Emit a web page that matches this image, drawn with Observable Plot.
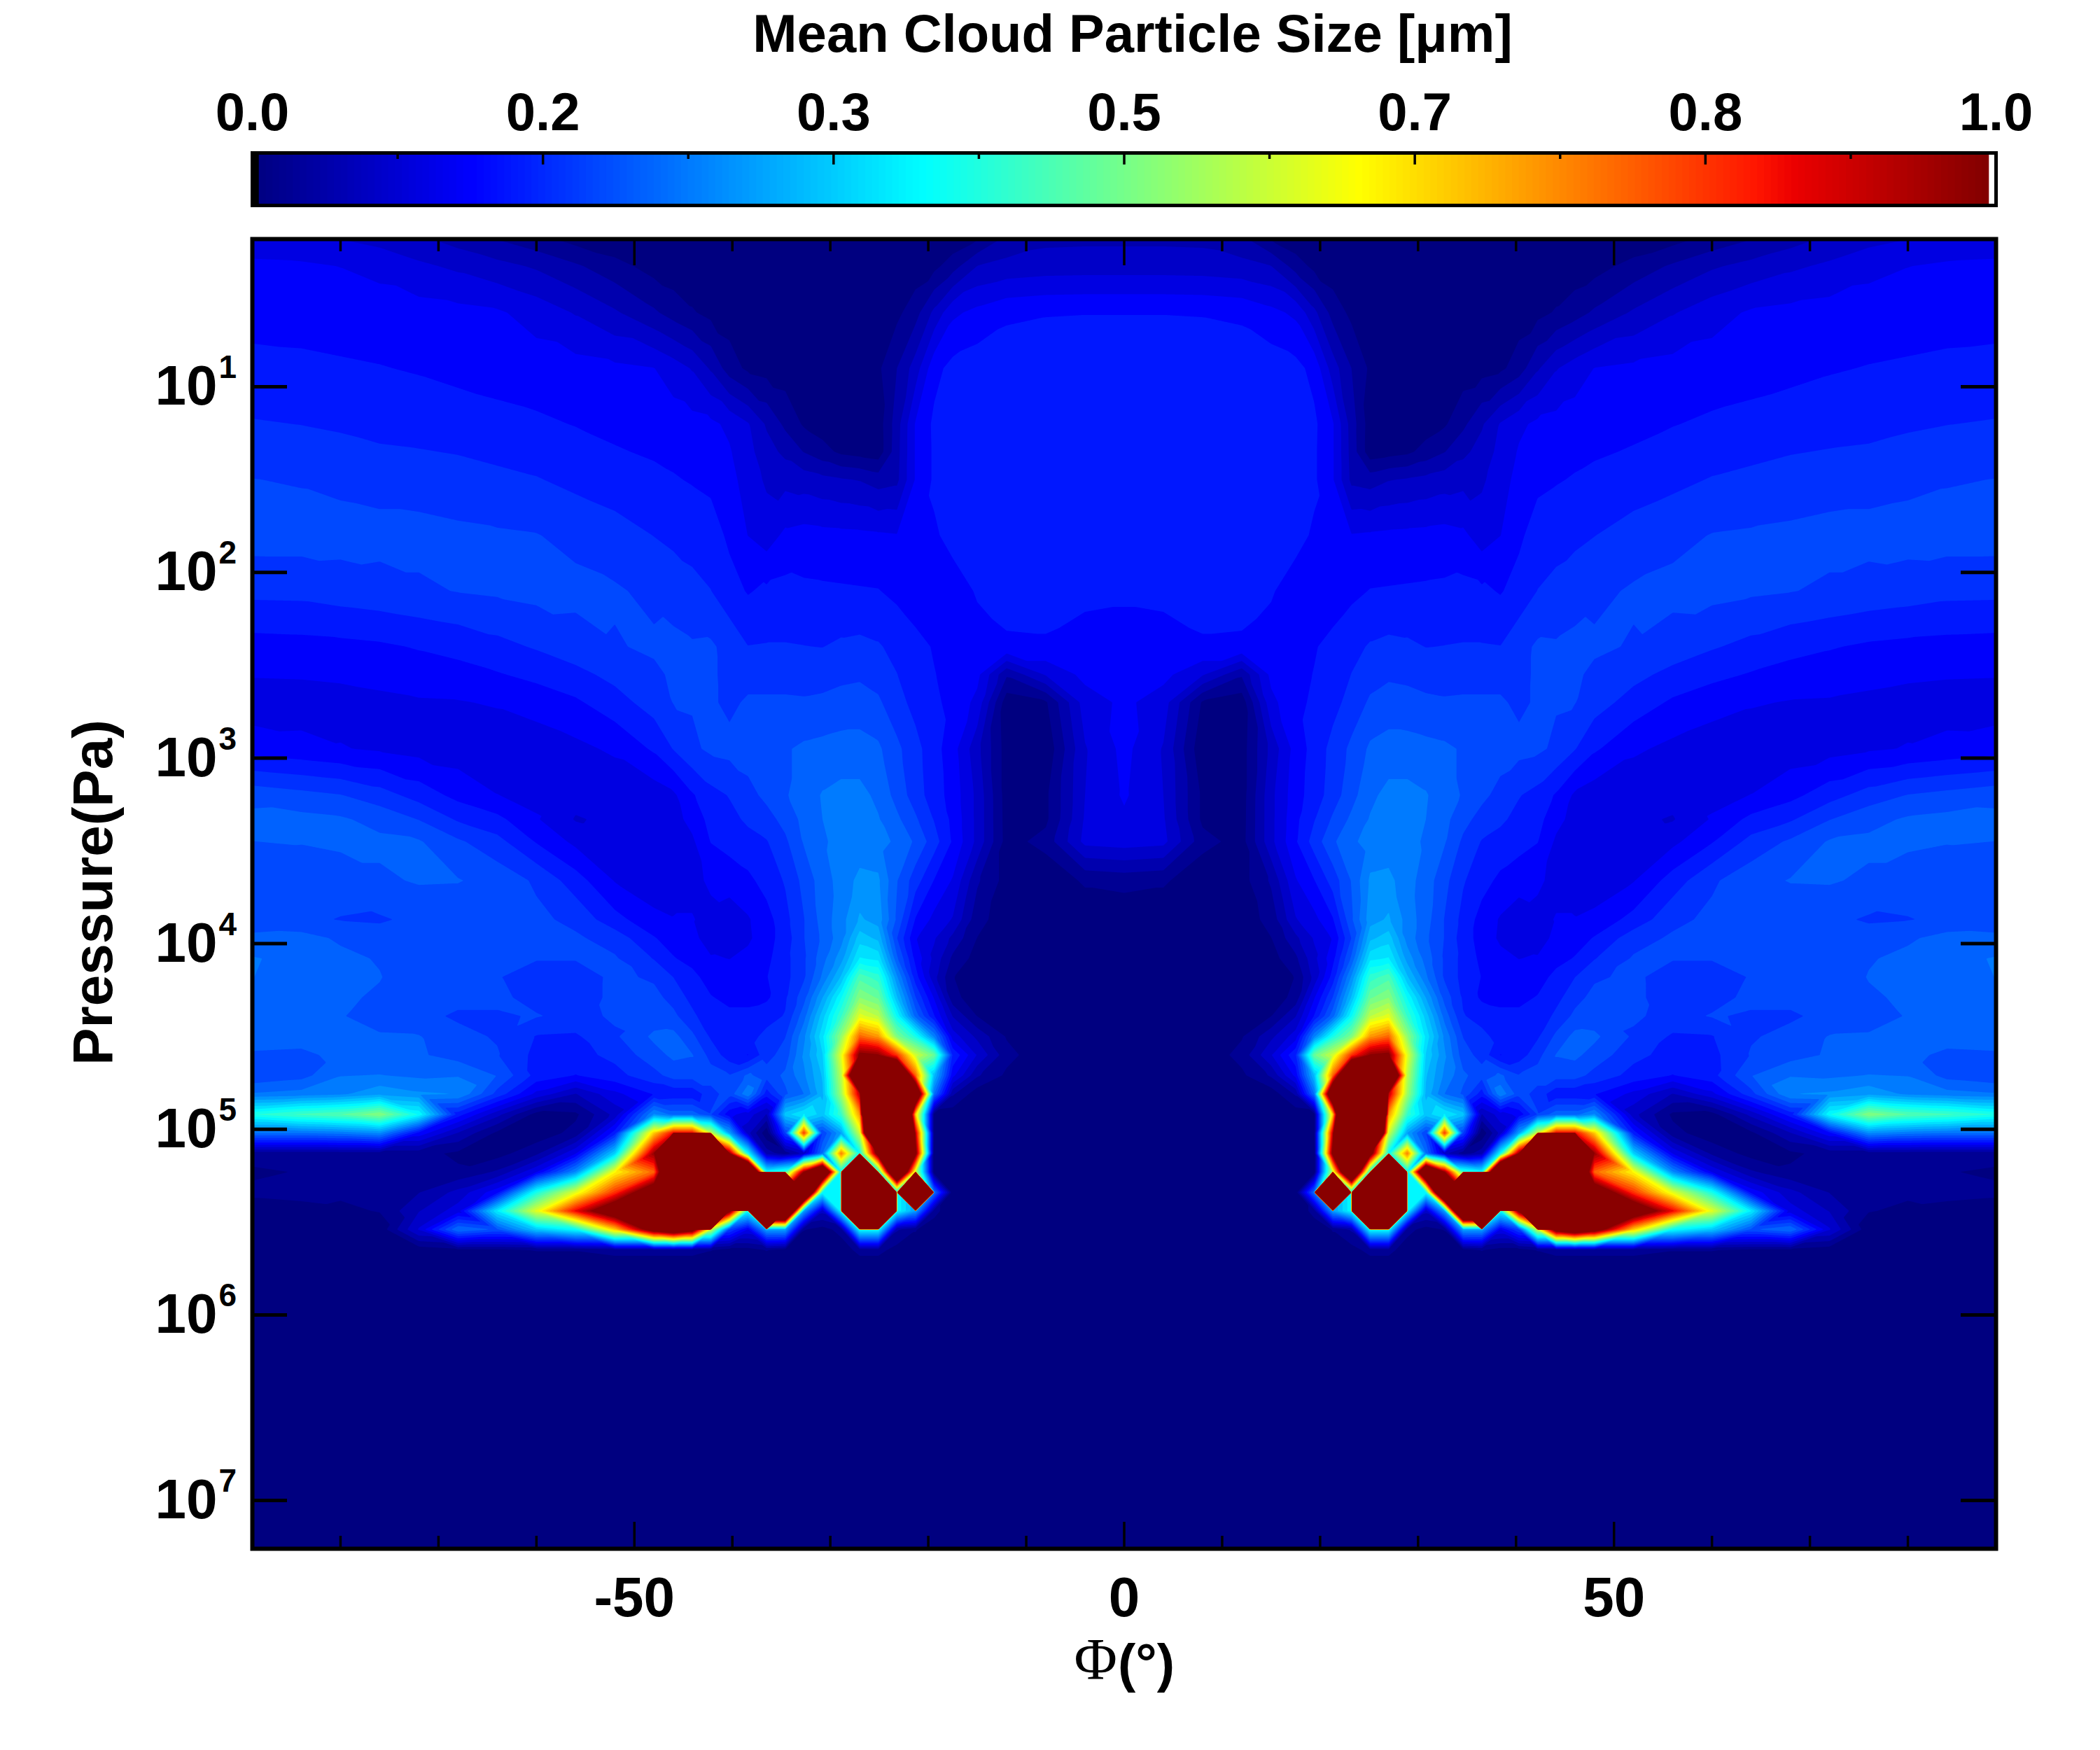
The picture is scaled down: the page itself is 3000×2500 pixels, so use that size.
<!DOCTYPE html>
<html>
<head>
<meta charset="utf-8">
<script src="https://cdn.jsdelivr.net/npm/d3@7"></script>
<script src="https://cdn.jsdelivr.net/npm/@observablehq/plot@0.6"></script>
<style>
html,body{margin:0;padding:0;background:#fff;}
svg{display:block;}
</style>
</head>
<body>
<div id="bar"></div>
<div id="main"></div>
<script>
// Latitude columns (degrees from the equator; the field is mirrored about 0)
const latitudes = [0,4,8,12,15,17.5,19.4,21.3,23.2,25.1,27,28.9,30.8,32.7,34.6,36.5,38.4,40.3,42.2,44.1,46,48,52,56,60,64,68,72,76,80,84,90];
// Pressure rows, log10(Pa)
const logPressures = [0.2,0.35,0.6,0.9,1.2,1.35,1.5,1.8,2.1,2.4,2.55,2.7,2.95,3.2,3.33,3.45,3.66,3.87,3.97,4.08,4.18,4.29,4.39,4.5,4.6,4.71,4.81,4.92,5.02,5.13,5.23,5.34,5.44,5.54,5.65,5.75,7.3];
// Mean particle size in hundredths of a micron, one row per pressure level
const sizeRows = [
[6.6,6.6,6.5,5.2,1.7,.2,0,0,0,0,0,0,0,0,0,0,0,0,0,0,0,0,0,1,2.8,4.4,6,7.6,8.8,9.6,10.1,10.6],
[8.5,8.5,8.4,8,7.2,3.5,1.3,.5,0,0,0,0,0,0,0,0,0,0,0,.3,.5,1,3,5,6.8,8,9.2,10.2,11.5,12.2,12.7,12.9],
[14.7,14.7,14.6,14.2,13,11.7,7.8,3.6,1.4,.5,.3,.2,.2,.2,.2,.2,.3,.8,1.3,2.3,3.5,5,7.5,9.5,11.2,12.6,13,13.3,13.5,13.7,13.9,14],
[17,17,17,16.8,16.2,15.6,14,8.4,4.6,1.6,.3,.2,.3,.5,.7,1,1.5,3.3,6.8,9.5,11,12.3,12.8,13.2,13.5,13.9,14.2,14.6,14.9,15.1,15.3,15.5],
[16,16,16,16,16,15.8,15.3,12.5,6,.7,.2,.5,.8,1.7,4,6.8,9.9,11.7,12.8,13.1,13.4,13.7,14.2,14.7,15.2,15.5,15.9,16.2,16.5,17,17.3,17.6],
[16,16,16,16,16,15.7,15.2,12.5,6.2,.5,1,1.5,3,4.5,6.5,8.2,10.5,12.5,13.5,13.8,14.2,14.5,15,15.7,16.3,16.7,17.2,17.5,17.7,18.1,18.5,18.8],
[16,16,16,16,16,15.6,15.2,12.5,6.5,6,7,7.4,7.9,8.5,8.9,9.3,11,13.2,14.2,14.6,15,15.4,16,16.7,17.5,18,18.5,18.8,19,19.3,19.7,20],
[15.8,15.8,15.8,15.8,15.5,15.5,14.5,13.8,12.4,12.6,12.8,12.9,13,13.2,12.8,11,12.2,14.3,16,16.5,16.8,17.3,18.4,19.2,20,20.2,20.4,20.7,20.7,20.9,21,21],
[15,15.1,15.3,15.3,15,13.8,13.2,13.3,14.2,14.9,15,15.1,15.2,15.3,15.6,15.3,14.6,15.8,17.4,18,18.7,19.3,20.2,20.6,20.7,20.3,20,19.5,19,18.6,18.1,18],
[14.3,14.3,14.65,14.6,14,14.2,14.6,15.6,16.6,17.6,18,17.8,17.3,17.4,17.5,17.5,17.4,19,20.3,20.2,20.6,20.3,19.7,18.8,17.6,16.6,15.6,15,14.4,14.1,13.9,13.7],
[13.5,13,10,5,13,14,14.9,16,17.4,18.9,19.5,19.3,18.9,18.8,18.9,18.9,18.9,19.2,20.3,20.2,20.3,19.4,18.1,16.6,15.5,14.6,13.9,13.5,13,12.7,12.5,12.4],
[12.8,11,1.7,.5,11.5,14.2,15.2,16.5,18.3,20.3,21,20.8,20.4,20.2,20.3,20.3,20.3,19.3,20.3,20.1,20,18.5,16.3,14.4,13.3,12.5,12.1,12,11.7,11.3,11.1,11],
[13,9.5,0,.8,8,13.3,15.8,18.2,20.5,22.9,23.5,23.5,23.2,22.9,22.2,21.6,21.2,20.7,20.4,19.4,17.5,15.2,12.7,11.6,10.8,10.6,10.9,11.3,11.9,12.4,13,13.8],
[12.6,9.7,1.5,.8,9,13.8,16,18.6,21.5,24.4,25.8,25.8,25.2,23.7,22.2,20.6,19,17.5,16.5,14.5,11.8,10.8,10.3,10.6,11.5,12.3,14,16.3,18.5,20,20.7,21.7],
[11.8,10,1.5,.9,9,14.2,17.2,20.3,23,25.2,25.9,25.8,25,23.2,20.8,18.9,17.8,16.6,15.7,13.1,11.3,10.5,10.2,9.5,12.5,15.5,17,19.8,21.6,22.8,23.2,23],
[11,10.5,3,1,9,14.5,18.5,22,24.6,25.8,26,25.7,24.7,22.7,19.4,17.2,16.5,15.8,14.9,11.8,10.8,10.2,10.5,11.6,14.6,18.2,20.3,22.7,23,23,22.6,22.4],
[3,2.5,0,1,5,12,14.7,18.5,22.6,28,28.3,26,23.8,20.7,17.6,15.8,14.2,13.2,12.7,11.5,10.8,10.5,12.1,16,19.5,21.5,22.6,22.7,22,21,20.7,21],
[0,0,0,.5,3,9.5,11.5,14.6,22,29,30.5,26.5,23.5,19.8,16.5,13.8,12,11,11.5,12.4,12.4,13,15.7,19.2,20.5,20.6,20.5,20.5,19.6,19.8,20.3,20.8],
[0,0,0,.5,2,6.5,10,12.5,20,32,34,26.5,23,19.8,16,13.8,11.8,11.3,11,13,13.5,15,18.8,20.3,20.5,20.5,20.5,20.8,21,22,23.5,23],
[0,0,0,0,1,4,9,14,23,37,38,29,24,19.5,16.5,14.2,13,12.2,12.5,13.8,15,17.2,20.2,20.1,20.1,20.5,20.5,20.8,22.2,23.2,24,25.5],
[0,0,0,0,.3,2.2,8,16,28,44,47,33,25.5,19.5,16.5,14.7,14,13.5,13.5,15.7,17.3,19.5,20.5,18.5,18.5,20.1,20.3,20.5,22.6,23,23.8,25.3],
[0,0,0,0,.3,3,12,20,33,50,53,40,30,21.5,17,14.3,14,14,15,16.5,19,20.7,20.5,18.6,19,20.5,20.5,20.5,22,23,23.3,23.5],
[0,0,0,0,2,7,15,24,40,58,62,45,34,24,17.5,16.5,15.5,15.5,15.5,18,20.5,21,20.3,19,20.1,19.6,19.6,20.5,21.5,22.6,23.6,25.3],
[0,0,0,1.8,6.5,11,27,42,52,75,80,54,37,27,19.8,18,16.5,17,17,20.5,23.3,23,19.5,17,17.2,19.7,20.5,22.6,22.7,23,23.3,24.2],
[0,0,0,3,9.5,17,50,60,85,100,102,62,35,28,21,19,14.7,16,19,22.6,23,21.5,18,16.5,16.6,20.1,21.4,22.8,23,23,22,22.2],
[0,0,0,1.5,5,13,33,80,150,300,150,58,33,27,23,21,23,20.1,21,21,21,19,16.5,14.7,16.5,22.3,24.8,24.5,25.1,24.9,21.5,20.1],
[0,0,0,0,.5,5,25,130,400,400,95,55,32,25,22,16,27,21,19,15.5,15.5,15,11.5,7,11.5,19,27.5,28,29.5,27,26,25.1],
[0,0,0,0,0,.5,1,70,223,300,75,45,34,38,34,7,11,13,20.1,24,24,28,8,1.5,1,8,16,40,53,48,46,42],
[0,0,0,0,0,0,1,95,500,222,60,30,20.1,85,20.1,0,8,30,60,90,90,70,16,3,.3,1.5,7,14,28,26,25.1,25.1],
[0,0,0,0,0,0,0,105,500,110,40,78,25.1,8,3,6,40,100,3000,3000,3000,99,35,12,4,1,1.5,3,3,3,3,3],
[0,0,0,0,0,0,0,60,150,40,3000,40,140,100,45,40,170,3000,3000,3000,150,80,65,28,12,5,2.5,2.2,2.2,2.2,2.2,1.5],
[0,0,0,0,0,0,25.1,3000,40,3000,3000,40,40,160,3000,3000,3000,3000,3000,3000,3000,115,85,62,42,14,8,4.5,2.5,2.5,3,2.5],
[0,0,0,0,0,0,3,30,40,3000,3000,40,8,30,168,3000,40,105,3000,3000,3000,3000,115,90,62,38,11,7,2.2,1.5,1,1],
[0,0,0,0,0,0,.5,2.2,5,40,40,3,1,2.2,30,30,12,20.1,60,110,120,110,70,40,34,22,25.1,10,.3,0,0,0],
[0,0,0,0,0,0,0,1,1,3,3,.5,0,0,1,2.2,1,1,2.2,3,3,3,3,2.2,2.2,1.5,1.5,.5,0,0,0,0],
[0,0,0,0,0,0,0,0,0,0,0,0,0,0,0,0,0,0,0,0,0,0,0,0,0,0,0,0,0,0,0,0],
[0,0,0,0,0,0,0,0,0,0,0,0,0,0,0,0,0,0,0,0,0,0,0,0,0,0,0,0,0,0,0,0]
];
// Contour levels of the filled field (microns)
const contourLevels = [0,0.0205,0.046,0.0715,0.097,0.1225,0.148,0.1735,0.199,0.2245,0.25,0.2755,0.301,0.3265,0.352,0.3775,0.403,0.4285,0.454,0.4795,0.505,0.5305,0.556,0.5815,0.607,0.6325,0.658,0.6835,0.709,0.7345,0.76,0.7855,0.811,0.8365,0.862,0.8875,0.913,0.9385,0.964,0.9895];
// Axis ticks
const phiMajor = [-50,0,50];
const phiMinor = [-80,-70,-60,-40,-30,-20,-10,10,20,30,40,60,70,80];
const pressureExponents = [1,2,3,4,5,6,7];
const barLabels = [[0,"0.0"],[1/6,"0.2"],[2/6,"0.3"],[3/6,"0.5"],[4/6,"0.7"],[5/6,"0.8"],[1,"1.0"]];
const barMinor = [1/12,3/12,5/12,7/12,9/12,11/12];
const paletteSize = 256;

const FONT = "Liberation Sans";
const left = 360, right = 149;

function pw(t, stops){
  for (let i=1;i<stops.length;i++){
    if (t<=stops[i][0]){
      const [a,va]=stops[i-1],[b,vb]=stops[i];
      return va+(vb-va)*(t-a)/(b-a);
    }
  }
  return stops[stops.length-1][1];
}
function jet(t){
  const r=pw(t,[[0,0],[.385,0],[.635,1],[.865,1],[1,.5]]);
  const g=pw(t,[[0,0],[.125,0],[.385,1],[.635,1],[.885,0],[1,0]]);
  const b=pw(t,[[0,.5],[.125,1],[.385,1],[.635,0],[1,0]]);
  return `rgb(${Math.round(r*255)},${Math.round(g*255)},${Math.round(b*255)})`;
}

sizeRows.forEach((row,i)=>{ if(row.length!==latitudes.length) throw new Error("row "+i+" has "+row.length); });
if (sizeRows.length!==logPressures.length) throw new Error("rows "+sizeRows.length);

const field = [];
logPressures.forEach((lp,r)=>{
  latitudes.forEach((lat,c)=>{
    const v = sizeRows[r][c]/100;
    field.push({phi:lat,lp,v,r,c:latitudes.length-1+c});
    if (lat>0) field.push({phi:-lat,lp,v,r,c:latitudes.length-1-c});
  });
});

// Triangulated grid: each cell is split along the diagonal with the smaller
// value difference, mirrored about the equator.
function gridTriangles(index,w,h,X,Y,V){
  const nc=latitudes.length*2-1, nr=logPressures.length;
  const cx=new Float64Array(nc), cy=new Float64Array(nr);
  const G=new Float64Array(nc*nr);
  for (const i of index){
    const f=field[i];
    cx[f.c]=X[i]; cy[f.r]=Y[i]; G[f.r*nc+f.c]=V[i];
  }
  const colOf=new Int32Array(w), uOf=new Float64Array(w);
  for (let i=0,c=0;i<w;i++){
    const x=i+.5;
    while(c<nc-2&&x>cx[c+1])c++;
    colOf[i]=c; uOf[i]=(x-cx[c])/(cx[c+1]-cx[c]);
  }
  const W=new Float64Array(w*h);
  const mid=(latitudes.length-1);
  for (let j=0,r=0;j<h;j++){
    const y=j+.5;
    while(r<nr-2&&y>cy[r+1])r++;
    const v=(y-cy[r])/(cy[r+1]-cy[r]);
    for (let i=0;i<w;i++){
      const c=colOf[i]; let u=uOf[i];
      let a=G[r*nc+c],b=G[r*nc+c+1],e=G[(r+1)*nc+c],f=G[(r+1)*nc+c+1];
      if (c<mid){ let t=a;a=b;b=t; t=e;e=f;f=t; u=1-u; }
      let val;
      if (Math.abs(a-f)<=Math.abs(b-e)){
        val = u>=v ? a+(b-a)*u+(f-b)*v : a+(f-e)*u+(e-a)*v;
      } else {
        val = u+v<=1 ? a+(b-a)*u+(e-a)*v : f+(e-f)*(1-u)+(b-f)*(1-v);
      }
      W[j*w+i]=val;
    }
  }
  return W;
}

// Colour bar
const H1 = 320, top1 = 218, bottom1 = 27;
const barH = H1-top1-bottom1;
const barPlot = Plot.plot({
  width:3000,height:H1,marginLeft:left,marginRight:right,marginTop:top1,marginBottom:bottom1,
  style:{background:"#fff",overflow:"visible"},
  x:{domain:[0,1],axis:null},
  y:{domain:[0,1],axis:null},
  color:{type:"identity"},
  marks:[
    Plot.rect(d3.range(paletteSize),{
      x1:i=>i/paletteSize,
      x2:i=>(i+1)/paletteSize+0.0005,
      y1:0,y2:1,
      fill:i=>i===0?"#000":i===paletteSize-1?"#fff":jet(i/(paletteSize-1))
    }),
    Plot.frame({stroke:"#000",strokeWidth:5}),
    Plot.tickX(barLabels.map(d=>d[0]).slice(1,-1),{x:d=>d,insetBottom:barH-17,stroke:"#000",strokeWidth:3.5}),
    Plot.tickX(barMinor,{x:d=>d,insetBottom:barH-9,stroke:"#000",strokeWidth:3.5}),
    Plot.text(barLabels,{x:d=>d[0],text:d=>d[1],frameAnchor:"top",lineAnchor:"middle",dy:-57,
      fontSize:76,fontWeight:"bold",fontFamily:FONT,fill:"#000"}),
    Plot.text(["Mean Cloud Particle Size [μm]"],{x:()=>0.5,text:d=>d,frameAnchor:"top",lineAnchor:"middle",dy:-169,dx:12,
      fontSize:76,fontWeight:"bold",fontFamily:FONT,fill:"#000"})
  ]
});
document.getElementById("bar").append(barPlot);

// Main field
const H2 = 2180, top2 = 21, bottom2 = 288;
const plotH = H2-top2-bottom2, plotW = 3000-left-right;
const mainPlot = Plot.plot({
  width:3000,height:H2,marginLeft:left,marginRight:right,marginTop:top2,marginBottom:bottom2,
  style:{background:"#fff",overflow:"visible"},
  x:{domain:[-89,89],axis:null},
  y:{domain:[7.26,0.204],axis:null},
  color:{type:"linear",domain:[0,1],interpolate:jet},
  marks:[
    Plot.frame({fill:jet(0)}),
    Plot.contour(field,{x:"phi",y:"lp",fill:"v",interpolate:gridTriangles,thresholds:contourLevels,pixelSize:1,stroke:"none"}),
    Plot.tickX(phiMinor,{x:d=>d,insetTop:plotH-18,stroke:"#000",strokeWidth:3.5}),
    Plot.tickX(phiMinor,{x:d=>d,insetBottom:plotH-18,stroke:"#000",strokeWidth:3.5}),
    Plot.tickX(phiMajor,{x:d=>d,insetTop:plotH-38,stroke:"#000",strokeWidth:3.5}),
    Plot.tickX(phiMajor,{x:d=>d,insetBottom:plotH-38,stroke:"#000",strokeWidth:3.5}),
    Plot.tickY(pressureExponents,{y:d=>d,insetRight:plotW-50,stroke:"#000",strokeWidth:5}),
    Plot.tickY(pressureExponents,{y:d=>d,insetLeft:plotW-50,stroke:"#000",strokeWidth:5}),
    Plot.frame({stroke:"#000",strokeWidth:6}),
    Plot.text(phiMajor,{x:d=>d,text:d=>String(d),frameAnchor:"bottom",lineAnchor:"middle",dy:71,
      fontSize:80,fontWeight:"bold",fontFamily:FONT,fill:"#000"}),
    Plot.text(pressureExponents,{y:d=>d,text:()=>"10",frameAnchor:"left",textAnchor:"end",lineAnchor:"middle",dx:-50,
      fontSize:80,fontWeight:"bold",fontFamily:FONT,fill:"#000"}),
    Plot.text(pressureExponents,{y:d=>d,text:d=>String(d),frameAnchor:"left",textAnchor:"start",lineAnchor:"middle",dx:-48,dy:-27,
      fontSize:46,fontWeight:"bold",fontFamily:FONT,fill:"#000"}),
    Plot.text(["Pressure(Pa)"],{text:d=>d,frameAnchor:"left",rotate:-90,lineAnchor:"middle",textAnchor:"middle",dx:-226,dy:-2,
      fontSize:80,fontWeight:"bold",fontFamily:FONT,fill:"#000"}),
    Plot.text(["Φ"],{text:d=>d,frameAnchor:"bottom",textAnchor:"end",lineAnchor:"middle",dx:-10,dy:160,
      fontSize:84,fontFamily:"Liberation Serif",fill:"#000"}),
    Plot.text(["(°)"],{text:d=>d,frameAnchor:"bottom",textAnchor:"start",lineAnchor:"middle",dx:-9,dy:165,
      fontSize:76,fontWeight:"bold",fontFamily:FONT,fill:"#000"})
  ]
});
document.getElementById("main").append(mainPlot);
</script>
</body>
</html>
